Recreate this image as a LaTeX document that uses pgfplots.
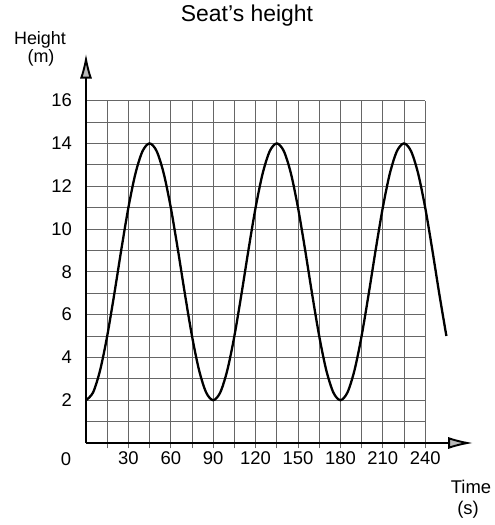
\documentclass[border=0pt]{standalone}
\usepackage{fontspec}
\setmainfont{Liberation Sans}
\usepackage{pgfplots}
\pgfplotsset{compat=1.18}
\usetikzlibrary{arrows.meta}

\begin{document}
\begin{tikzpicture}
\begin{axis}[
  x=1.4133bp, y=21.4bp,
  xmin=0, xmax=274, ymin=0, ymax=18.2,
  axis lines=left,
  axis on top,
  axis line style={line width=1.9bp, -{Latex[length=25bp,width=12bp,fill=gray!55]}},
  clip=false,
  xtick={30,60,...,240}, ytick={2,4,...,16},
  major tick length=0pt,
  tick style={draw=none},
  /pgf/number format/assume math mode=true,
  ticklabel style={font=\fontsize{18.5}{18.5}\selectfont, inner sep=0pt},
  xticklabel style={anchor=center, yshift=-15bp},
  yticklabel style={anchor=east, xshift=-14bp},
]
  % fixed picture frame around the origin
  \path ([shift={(-86bp,-82bp)}]axis cs:0,0) rectangle ([shift={(409bp,443bp)}]axis cs:0,0);

  % grid: every 15 s and every 1 m
  \pgfplotsinvokeforeach{15,30,...,240}{
    \draw[black!60, line width=0.9bp] (axis cs:#1,-0.25) -- (axis cs:#1,16);
  }
  \pgfplotsinvokeforeach{1,...,16}{
    \draw[black!60, line width=0.9bp] (axis cs:0,#1) -- (axis cs:240,#1);
  }

  % seat height over time
  \addplot[black, line width=2.3bp, smooth] coordinates {
    (0,2)(5,2.362)(10,3.404)(15,5)(20,6.958)(25,9.042)(30,11)(35,12.596)(40,13.638)
    (45,14)(50,13.638)(55,12.596)(60,11)(65,9.042)(70,6.958)(75,5)(80,3.404)(85,2.362)
    (90,2)(95,2.362)(100,3.404)(105,5)(110,6.958)(115,9.042)(120,11)(125,12.596)(130,13.638)
    (135,14)(140,13.638)(145,12.596)(150,11)(155,9.042)(160,6.958)(165,5)(170,3.404)(175,2.362)
    (180,2)(185,2.362)(190,3.404)(195,5)(200,6.958)(205,9.042)(210,11)(215,12.596)(220,13.638)
    (225,14)(230,13.638)(235,12.596)(240,11)(245,9.042)(250,6.958)(255,5)
  };

  % labels
  \node[font=\fontsize{23}{23}\selectfont] at ([shift={(161bp,427bp)}]axis cs:0,0) {Seat's height};
  \node[font=\fontsize{18}{18}\selectfont] at ([shift={(-46bp,403bp)}]axis cs:0,0) {Height};
  \node[font=\fontsize{18}{18}\selectfont] at ([shift={(-45bp,385bp)}]axis cs:0,0) {(m)};
  \node[font=\fontsize{18.5}{18.5}\selectfont] at ([shift={(385bp,-44bp)}]axis cs:0,0) {Time};
  \node[font=\fontsize{18.5}{18.5}\selectfont] at ([shift={(382bp,-67bp)}]axis cs:0,0) {(s)};
  \node[font=\fontsize{18.5}{18.5}\selectfont, inner sep=0pt] at ([shift={(-20bp,-16bp)}]axis cs:0,0) {0};
\end{axis}
\end{tikzpicture}
\end{document}
